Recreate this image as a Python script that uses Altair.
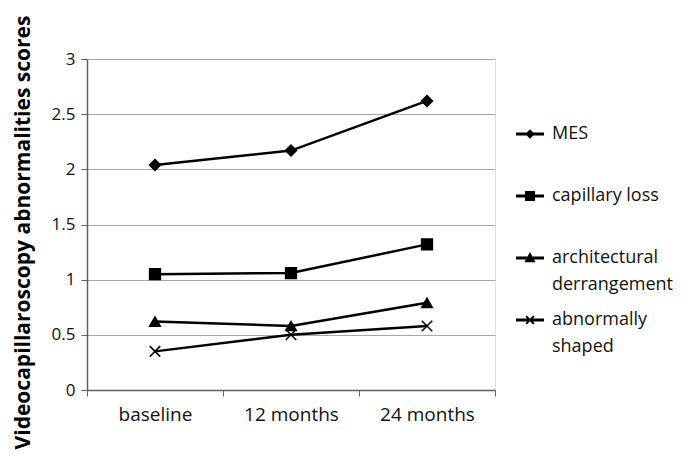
import altair as alt
import pandas as pd

categories = ["baseline", "12 months", "24 months"]
series_names = ["MES", "capillary loss", "architectural derrangement", "abnormally shaped"]
mes = [2.04, 2.17, 2.62]
capillary_loss = [1.05, 1.06, 1.32]
architectural = [0.62, 0.58, 0.79]
abnormally = [0.35, 0.50, 0.58]
y_ticks = [0, 0.5, 1, 1.5, 2, 2.5, 3]

rows = []
for name, vals in zip(series_names, [mes, capillary_loss, architectural, abnormally]):
    for c, v in zip(categories, vals):
        rows.append({"time": c, "score": v, "series": name, "key": name})
df = pd.DataFrame(rows)

FONT = "Open Sans"
AXIS_COLOR = "#606060"

x = alt.X(
    "time:N",
    sort=categories,
    scale=alt.Scale(domain=categories, paddingInner=0, paddingOuter=0),
    axis=alt.Axis(
        title=None, labelAngle=0, tickBand="extent", grid=False,
        domainColor=AXIS_COLOR, tickColor=AXIS_COLOR, tickSize=6, domainWidth=1.5,
        labelFont=FONT, labelFontSize=19, labelColor="#111", labelPadding=9,
    ),
)
y = alt.Y(
    "score:Q",
    scale=alt.Scale(domain=[0, 3], nice=False),
    axis=alt.Axis(
        values=y_ticks, format="~g",
        title="Videocapillaroscopy abnormalities scores",
        titleFont=FONT, titleFontSize=21, titleFontWeight="bold", titleColor="#000",
        titleX=-64, titleY=173, titleAlign="center", titleBaseline="middle", titleAngle=270,
        grid=True, gridColor="#a6a6a6", gridWidth=1.2,
        domainColor=AXIS_COLOR, tickColor=AXIS_COLOR, tickSize=6, domainWidth=1.5,
        labelFont=FONT, labelFontSize=17, labelColor="#111", labelPadding=6,
    ),
)

cross_path = "M-1,-1L1,1M1,-1L-1,1"
# legend glyphs: a short horizontal bar with the series marker on it (filled outlines)
bar = "M-1,-0.1L1,-0.1L1,0.1L-1,0.1Z"
legend_paths = [
    bar + "M0,-0.34L0.34,0L0,0.34L-0.34,0Z",
    bar + "M-0.36,-0.36L0.36,-0.36L0.36,0.36L-0.36,0.36Z",
    bar + "M0,-0.42L0.4,0.3L-0.4,0.3Z",
    bar + "M-0.23,-0.33L0.33,0.23L0.23,0.33L-0.33,-0.23Z"
          "M0.33,-0.23L-0.23,0.33L-0.33,0.23L0.23,-0.33Z",
]

lines = alt.Chart(df).mark_line(color="black", strokeWidth=2.5).encode(
    x=x, y=y, detail="series:N"
)

pts = alt.Chart(df).mark_point(
    filled=False, fill="black", stroke="black", strokeWidth=1.5, opacity=1
).encode(
    x=x, y=y,
    shape=alt.Shape("series:N", scale=alt.Scale(domain=series_names,
                    range=["diamond", "square", "triangle-up", cross_path]), legend=None),
    size=alt.Size("series:N", scale=alt.Scale(domain=series_names,
                  range=[120, 110, 120, 50]), legend=None),
)

label_expr = ("datum.label == 'architectural derrangement' ? ['architectural', 'derrangement'] : "
              "datum.label == 'abnormally shaped' ? ['abnormally', 'shaped'] : datum.label")

leg = alt.Chart(df).transform_filter("false").mark_point(
    filled=True, color="black", size=784, opacity=1
).encode(
    x=x, y=y,
    shape=alt.Shape(
        "key:N",
        scale=alt.Scale(domain=series_names, range=legend_paths),
        legend=alt.Legend(
            title=None, orient="none", legendX=428, legendY=60,
            symbolSize=784, labelFont=FONT, labelFontSize=18, labelColor="#111",
            labelExpr=label_expr, rowPadding=11, labelOffset=7, labelLimit=200,
            gridAlign="all", symbolFillColor="black", symbolOpacity=1,
        ),
    ),
)

chart = alt.layer(lines, pts, leg).resolve_scale(
    shape="independent", size="independent"
).properties(
    width=408, height=331,
    autosize=alt.AutoSizeParams(type="none"),
    padding={"left": 79, "top": 51, "right": 182, "bottom": 60},
).configure_view(stroke=None).configure(
    background="white", style={"guide-label": {"lineHeight": 27}}
)

chart.save("out.html", embed_options={"renderer": "svg", "actions": False})
